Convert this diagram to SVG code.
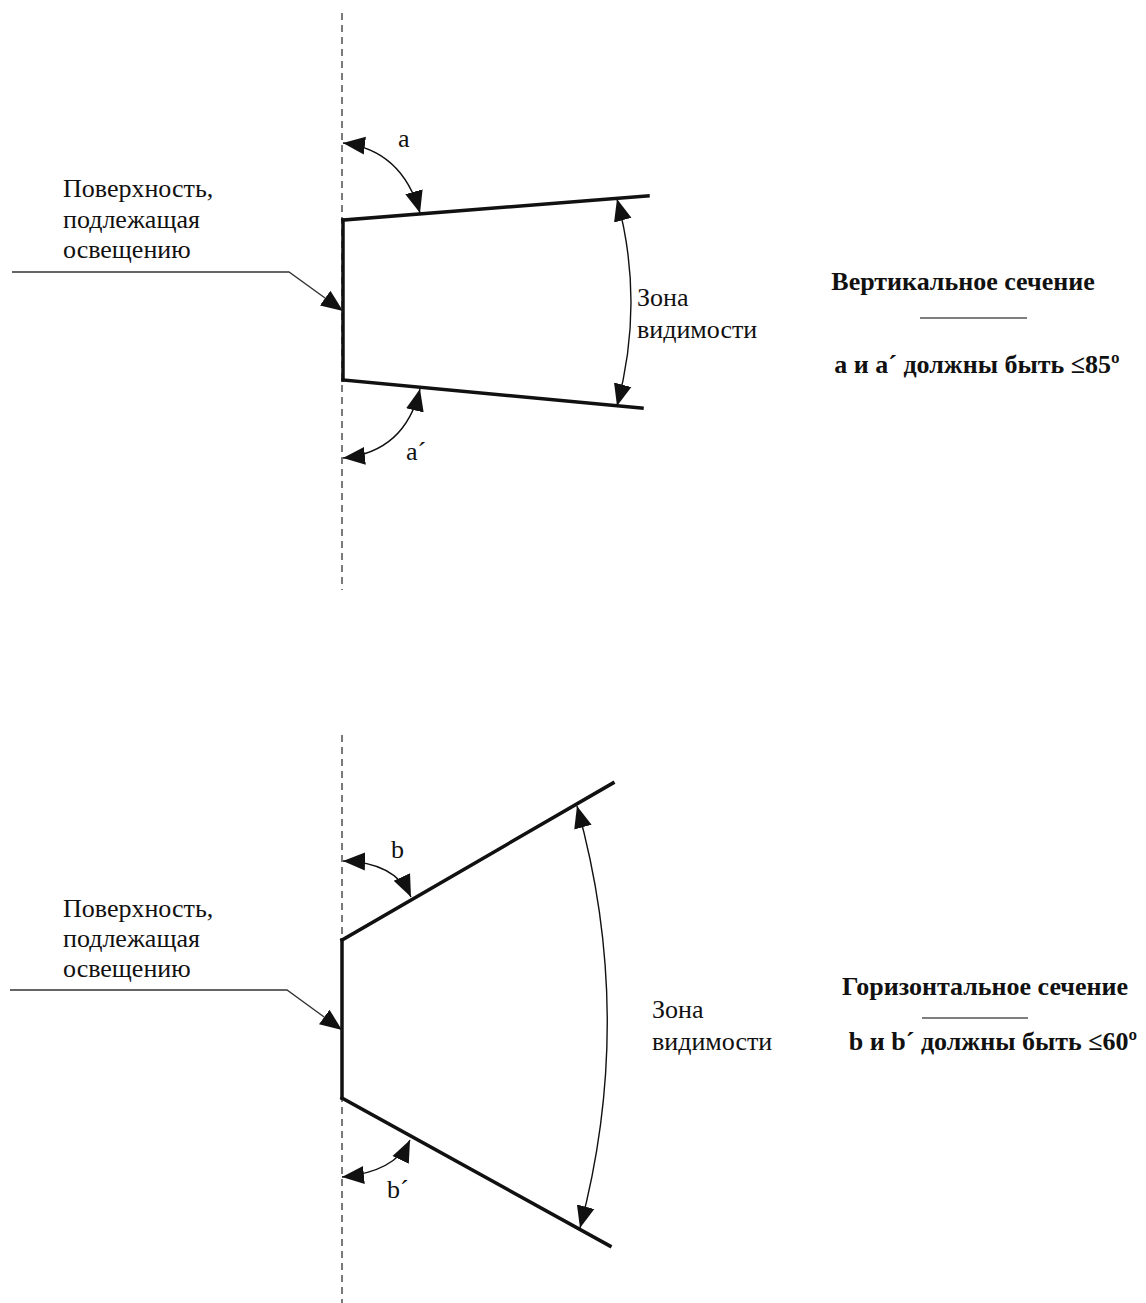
<svg xmlns="http://www.w3.org/2000/svg" width="1146" height="1303" viewBox="0 0 1146 1303">
<style>
.t{font-family:"Liberation Serif","Times New Roman",serif;font-size:26px;fill:#111}
.b{font-family:"Liberation Serif","Times New Roman",serif;font-size:26px;font-weight:bold;fill:#111}
.dash{stroke:#333;stroke-width:1.3;stroke-dasharray:7,5;fill:none}
.edge{stroke:#111;stroke-width:3.5;fill:none;stroke-linecap:square}
.arc{stroke:#111;stroke-width:1.4;fill:none}
.lead{stroke:#333;stroke-width:1.3;fill:none}
.ul{stroke:#555;stroke-width:1.3}
</style>
<defs>
<marker id="ah" markerUnits="userSpaceOnUse" markerWidth="24" markerHeight="20" refX="22" refY="9" orient="auto-start-reverse" viewBox="0 0 24 18">
<path d="M0,0 L22,9 L0,18 Z" fill="#111"/>
</marker>
</defs>
<rect width="1146" height="1303" fill="#fff"/>

<g id="vertical-section">
<line class="dash" x1="342" y1="13" x2="342" y2="590"/>
<g id="surface-top"><line class="edge" x1="343" y1="220" x2="343" y2="380"/></g>
<g id="zone-top">
<polyline class="edge" points="343,220 648,196"/>
<polyline class="edge" points="343,380 642,408"/>
</g>
<g id="label-surface-top">
<text class="t" x="63" y="197">Поверхность,</text>
<text class="t" x="63" y="228">подлежащая</text>
<text class="t" x="63" y="258">освещению</text>
</g>
<g id="label-a"><text class="t" x="398" y="147">a</text></g>
<g id="label-a2"><text class="t" x="406" y="460">a´</text></g>
<g id="label-zone-top">
<text class="t" x="637" y="306">Зона</text>
<text class="t" x="637" y="338">видимости</text>
</g>
<g id="caption-vertical">
<text class="b" x="963" y="290" text-anchor="middle">Вертикальное сечение</text>
<line class="ul" x1="920" y1="318" x2="1027" y2="318"/>
<text class="b" x="977" y="373" text-anchor="middle">а и а´ должны быть ≤85º</text>
</g>
</g>

<g id="horizontal-section">
<line class="dash" x1="342" y1="735" x2="342" y2="1303"/>
<g id="surface-bottom"><line class="edge" x1="342" y1="940" x2="342" y2="1098"/></g>
<g id="zone-bottom">
<polyline class="edge" points="342,940 613,783"/>
<polyline class="edge" points="342,1098 610,1246"/>
</g>
<g id="label-surface-bottom">
<text class="t" x="63" y="917">Поверхность,</text>
<text class="t" x="63" y="947">подлежащая</text>
<text class="t" x="63" y="977">освещению</text>
</g>
<g id="label-b"><text class="t" x="391" y="858">b</text></g>
<g id="label-b2"><text class="t" x="387" y="1198">b´</text></g>
<g id="label-zone-bottom">
<text class="t" x="652" y="1018">Зона</text>
<text class="t" x="652" y="1050">видимости</text>
</g>
<g id="caption-horizontal">
<text class="b" x="985" y="995" text-anchor="middle">Горизонтальное сечение</text>
<line class="ul" x1="922" y1="1018" x2="1028" y2="1018"/>
<text class="b" x="993" y="1050" text-anchor="middle">b и b´ должны быть ≤60º</text>
</g>
</g>

<g id="connectors">
<path class="arc" d="M343,143 Q402,150 420,213" marker-start="url(#ah)" marker-end="url(#ah)"/>
<path class="arc" d="M420,389 Q405,452 343,458" marker-start="url(#ah)" marker-end="url(#ah)"/>
<path class="arc" d="M617,199 Q645,302 617,406" marker-start="url(#ah)" marker-end="url(#ah)"/>
<path class="lead" d="M12,272 L289,272 L343,311" marker-end="url(#ah)"/>
<path class="arc" d="M343,861 Q395,862 411,897" marker-start="url(#ah)" marker-end="url(#ah)"/>
<path class="arc" d="M410,1140 Q395,1172 342,1177" marker-start="url(#ah)" marker-end="url(#ah)"/>
<path class="arc" d="M577,806 Q636,1017 580,1228" marker-start="url(#ah)" marker-end="url(#ah)"/>
<path class="lead" d="M10,990 L287,990 L342,1030" marker-end="url(#ah)"/>
</g>
</svg>
